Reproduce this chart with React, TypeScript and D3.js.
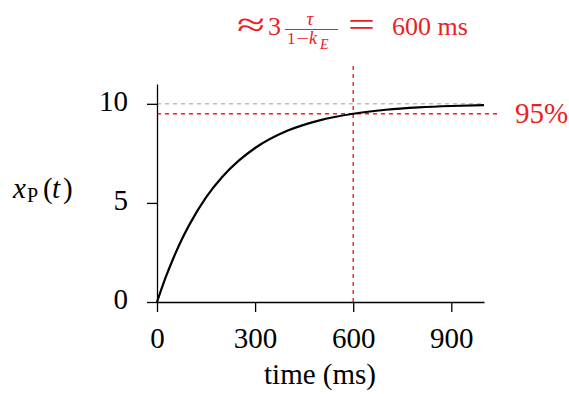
import React, { useEffect, useRef } from "react";
import * as d3 from "d3";

// Step response x_P(t)
const timeMs = [0, 25, 50, 75, 100, 150, 200, 250, 300, 400, 500, 600, 700, 800, 900, 1000];
const xP = [0, 1.18, 2.21, 3.13, 3.93, 5.28, 6.32, 7.13, 7.77, 8.65, 9.18, 9.5, 9.7, 9.82, 9.89, 9.93];

const xTicks = [0, 300, 600, 900];
const yTicks = [0, 5, 10];

const finalValue = 10;
const level95 = 9.5;
const crossTime = 600;
const level95End = 1040; // red horizontal reaches past axis end
const crossTop = 12.1; // red vertical reaches above axis top

const RED = "#e8231f";
const LINE_RED = "#f01e1e";
const FONT = "'Liberation Serif'";

export default function App() {
  const xAxisRef = useRef<SVGGElement>(null);
  const yAxisRef = useRef<SVGGElement>(null);

  const x = d3.scaleLinear().domain([0, 1000]).range([157, 484]);
  const y = d3.scaleLinear().domain([0, 11]).range([302, 84]);

  const line = d3
    .line<number>()
    .x((_, i) => x(timeMs[i]))
    .y((d) => y(d))
    .curve(d3.curveMonotoneX);

  useEffect(() => {
    if (xAxisRef.current) {
      const g = d3.select(xAxisRef.current);
      g.call(d3.axisBottom(x).tickValues(xTicks).tickSize(10).tickSizeOuter(0).tickFormat(d3.format("d")));
      g.selectAll("path,line").attr("stroke", "#000").attr("stroke-width", 1.3);
      g.selectAll("text")
        .attr("y", 46)
        .attr("dy", 0)
        .attr("fill", "#000")
        .style("font-family", FONT)
        .style("font-size", "29px");
    }
    if (yAxisRef.current) {
      const g = d3.select(yAxisRef.current);
      g.call(d3.axisLeft(y).tickValues(yTicks).tickSize(10).tickSizeOuter(0).tickFormat(d3.format("d")));
      g.selectAll("path,line").attr("stroke", "#000").attr("stroke-width", 1.3);
      g.selectAll("text")
        .attr("x", -29)
        .attr("dy", 0)
        .attr("y", 6.5)
        .attr("fill", "#000")
        .style("font-family", FONT)
        .style("font-size", "29px");
    }
  });

  const ts = { fontFamily: FONT };

  return (
    <svg
      width={569}
      height={394}
      style={{ position: "absolute", left: 0, top: 0, background: "#fff" }}
    >
      {/* reference lines */}
      <line
        x1={x(0)}
        x2={x(1000)}
        y1={y(finalValue)}
        y2={y(finalValue)}
        stroke="#bdbdbd"
        strokeWidth={1.6}
        strokeDasharray="4,4"
      />
      <line
        x1={x(0)}
        x2={x(level95End)}
        y1={y(level95)}
        y2={y(level95)}
        stroke={LINE_RED}
        strokeWidth={1.4}
        strokeDasharray="4,4"
      />
      <line
        x1={x(crossTime)}
        x2={x(crossTime)}
        y1={y(0)}
        y2={y(crossTop)}
        stroke={LINE_RED}
        strokeWidth={1.4}
        strokeDasharray="4,4"
      />

      <g ref={xAxisRef} transform={`translate(0,${y(0)})`} />
      <g ref={yAxisRef} transform={`translate(${x(0)},0)`} />

      <path d={line(xP) || ""} fill="none" stroke="#000" strokeWidth={2.2} />

      {/* 95% label */}
      <text x={515} y={123} fill={RED} fontSize={29} style={ts}>
        95%
      </text>

      {/* x label */}
      <text x={320} y={384} textAnchor="middle" fontSize={29} fill="#000" style={ts}>
        time (ms)
      </text>

      {/* y label */}
      <text y={198} fontSize={29} fill="#000" style={ts}>
        <tspan x={13} fontStyle="italic">x</tspan>
        <tspan x={27} y={202} fontSize={20}>P</tspan>
        <tspan x={43} y={198}>(</tspan>
        <tspan x={52} fontStyle="italic">t</tspan>
        <tspan x={63}>)</tspan>
      </text>

      {/* title formula */}
      <g fill={RED} style={ts}>
        <text x={237} y={36} fontSize={34} textLength={28} lengthAdjust="spacingAndGlyphs">≈</text>
        <text x={268} y={35} fontSize={26}>3</text>
        <text x={310} y={25} fontSize={19} fontStyle="italic" textAnchor="middle">τ</text>
        <line x1={285} x2={338} y1={29.5} y2={29.5} stroke={RED} strokeWidth={1} />
        <text x={287} y={44} fontSize={17}>1</text>
        <text x={296} y={44} fontSize={17} textLength={13} lengthAdjust="spacingAndGlyphs">−</text>
        <text x={309} y={44} fontSize={18} fontStyle="italic">k</text>
        <text x={320} y={48.5} fontSize={14} fontStyle="italic">E</text>
        <text x={348} y={36} fontSize={34} textLength={27} lengthAdjust="spacingAndGlyphs">=</text>
        <text x={392} y={35} fontSize={26}>600 ms</text>
      </g>
    </svg>
  );
}
